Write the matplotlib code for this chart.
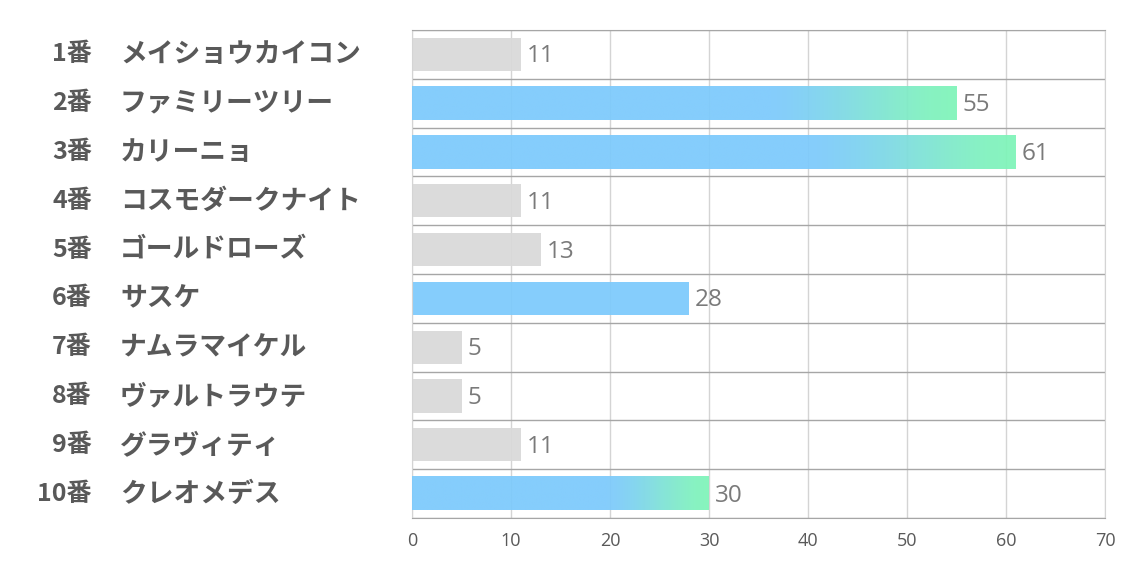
import matplotlib
matplotlib.use("Agg")
import matplotlib.pyplot as plt
import numpy as np
from matplotlib.colors import to_rgb

plt.rcParams['font.family'] = ['Noto Sans CJK JP', 'DejaVu Sans']

numbers = ["1番", "2番", "3番", "4番", "5番", "6番", "7番", "8番", "9番", "10番"]
names = ["メイショウカイコン", "ファミリーツリー", "カリーニョ", "コスモダークナイト", "ゴールドローズ",
         "サスケ", "ナムラマイケル", "ヴァルトラウテ", "グラヴィティ", "クレオメデス"]
values = [11, 55, 61, 11, 13, 28, 5, 5, 11, 30]
highlight = [False, True, True, False, False, True, False, False, False, True]
gradient = [False, True, True, False, False, False, False, False, False, True]
xticks = [0, 10, 20, 30, 40, 50, 60, 70]

BLUE = "#7ccafc"
GREEN = "#7ff5b8"
GRAY = "#d9d9d9"

fig = plt.figure(figsize=(11.34, 5.67), dpi=100)
ax = fig.add_axes([412/1134, 1-518/567, (1105-412)/1134, (518-30)/567])

n = len(values)
ys = np.arange(n)
h = 0.68
c1 = np.array(to_rgb(BLUE)); c2 = np.array(to_rgb(GREEN))
for y, v, hl, gr in zip(ys, values, highlight, gradient):
    col = BLUE if hl else GRAY
    if gr:
        t = np.linspace(0, 1, 512)
        f = 0.66
        s = np.clip((t - f) / (1 - f), 0, 1)
        s = s * s * (3 - 2 * s) * 0.6 + s * 0.4
        img = (c1[None, :] * (1 - s[:, None]) + c2[None, :] * s[:, None])[None, :, :]
        ax.imshow(img, extent=[0, v, y + h/2, y - h/2], aspect='auto', zorder=3,
                  alpha=0.93, interpolation='bilinear')
    else:
        ax.barh(y, v, height=h, color=col, alpha=0.93, zorder=2, linewidth=0)
    ax.text(v + 0.6, y + 0.04, str(v), va='center', ha='left', fontsize=17.5,
            color='#7a7a7a', family=['Open Sans', 'DejaVu Sans'], zorder=4)

ax.set_xlim(0, 70)
ax.set_ylim(n - 0.5, -0.5)
ax.set_xticks(xticks)
ax.set_xticklabels([str(t) for t in xticks], fontsize=13, color='#595959',
                   family=['Open Sans', 'DejaVu Sans'])
ax.tick_params(axis='x', length=0, pad=10)
ax.set_yticks([])
ax.set_yticks(np.arange(-0.5, n, 1), minor=True)
ax.tick_params(axis='y', which='both', length=0)
ax.grid(axis='x', color='#d4d4d4', linewidth=1, zorder=0)
ax.grid(axis='y', which='minor', color='#a6a6a6', linewidth=1, zorder=0)
ax.set_axisbelow(True)
for s in ['left', 'right']:
    ax.spines[s].set_color('#d4d4d4')
for s in ['top', 'bottom']:
    ax.spines[s].set_color('#a6a6a6')

for y, num, name in zip(ys, numbers, names):
    ax.text(-320/9.9, y, num, ha='right', va='center', fontsize=18, fontweight='bold',
            color='#595959', transform=ax.transData, clip_on=False)
    ax.text(-292/9.9, y, name, ha='left', va='center', fontsize=19.3, fontweight='bold',
            color='#595959', transform=ax.transData, clip_on=False)

fig.savefig("out.png", dpi=100)
